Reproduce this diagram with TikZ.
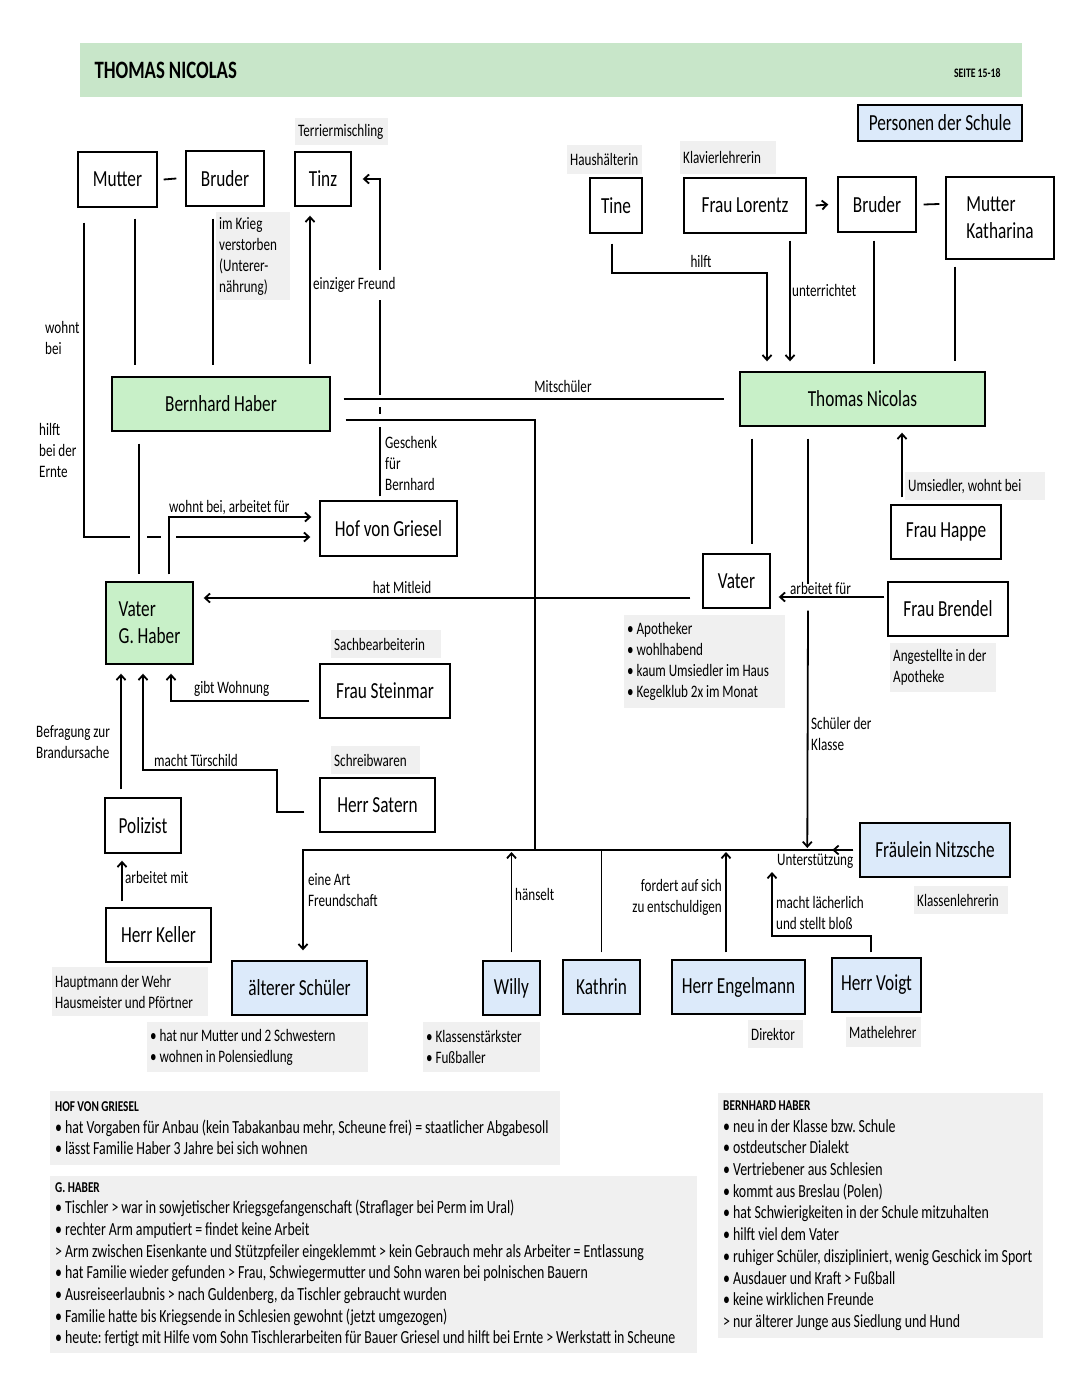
\documentclass[tikz,border=0pt]{standalone}
\usepackage{fontspec}
\setmainfont{Carlito}[FakeStretch=0.75, WordSpace=0.95]
\usetikzlibrary{arrows.meta}
\frenchspacing

\definecolor{kopfgruen}{RGB}{200,230,201}
\definecolor{gruen}{RGB}{200,240,200}
\definecolor{blau}{RGB}{220,234,250}
\definecolor{grau}{RGB}{240,240,240}

\begin{document}
\begin{tikzpicture}[x=1pt,y=-1pt,
  kasten/.style={draw, line width=1.4pt, inner sep=0pt, font=\fontsize{23}{27}\selectfont},
  notiz/.style={fill=grau, anchor=north west, inner sep=3pt, align=flush left, font=\fontsize{17.5}{21}\selectfont},
  info/.style={fill=grau, anchor=north west, inner xsep=5pt, inner ysep=6pt, align=flush left, font=\fontsize{18.5}{21.7}\selectfont},
  beschr/.style={inner sep=1pt, anchor=west, align=left, font=\fontsize{17.5}{21}\selectfont},
  linie/.style={line width=1.8pt},
  pfeil/.style={line width=1.8pt, -{Straight Barb[length=5pt,width=9pt]}}]

\useasboundingbox (0,0) rectangle (1080,1394);
\fill[white] (0,0) rectangle (1080,1394);

% Kopfzeile
\node[fill=kopfgruen, minimum width=942, minimum height=54, inner sep=0pt] (kopf) at (551,70) {};
\node[anchor=west, font=\bfseries\fontsize{25}{25}\selectfont] (titel) at (91,70) {THOMAS NICOLAS};
\node[anchor=east, font=\bfseries\fontsize{13}{13}\selectfont] (seite) at (1004,73) {SEITE 15-18};
\node[kasten, fill=blau, minimum width=164, minimum height=36] (personen) at (940,123) {Personen der Schule};

% Familie Haber
\node[kasten, minimum width=79, minimum height=55] (mutter) at (117.5,179.5) {Mutter};
\node[kasten, minimum width=78, minimum height=55] (bruder) at (225,178.5) {Bruder};
\node[kasten, minimum width=56, minimum height=54] (tinz) at (323,179) {Tinz};
\node[notiz, text width=87, minimum height=27] (terrier) at (295,118) {Terriermischling};
\node[notiz, text width=68, minimum height=88] (krieg) at (216,212) {im Krieg\\verstorben\\(Unterer-\\nährung)};
\node[kasten, fill=gruen, minimum width=218, minimum height=54] (bernhard) at (221,404) {Bernhard Haber};
\node[kasten, minimum width=137, minimum height=55] (hof) at (388.5,528.5) {Hof von Griesel};
\node[kasten, fill=gruen, minimum width=87, minimum height=82, align=left] (vaterg) at (149.5,623) {Vater\\G. Haber};
\node[kasten, minimum width=130, minimum height=54] (steinmar) at (385,691) {Frau Steinmar};
\node[notiz, text width=104, minimum height=28] (sachb) at (331,630) {Sachbearbeiterin};
\node[kasten, minimum width=115, minimum height=54] (satern) at (377.5,805) {Herr Satern};
\node[notiz, text width=83, minimum height=28] (schreibw) at (331,746) {Schreibwaren};
\node[kasten, minimum width=76, minimum height=55] (polizist) at (143,825.5) {Polizist};
\node[kasten, minimum width=105, minimum height=54] (keller) at (158.5,935) {Herr Keller};
\node[notiz, text width=150, minimum height=49] (hauptmann) at (52,967) {Hauptmann der Wehr\\Hausmeister und Pförtner};

% Familie Nicolas
\node[kasten, fill=gruen, minimum width=245, minimum height=54] (thomas) at (862.5,399) {Thomas Nicolas};
\node[kasten, minimum width=52, minimum height=55] (tine) at (616,205.5) {Tine};
\node[notiz, text width=69, minimum height=29] (haush) at (567,145) {Haushälterin};
\node[kasten, minimum width=122, minimum height=55] (lorentz) at (745,205.5) {Frau Lorentz};
\node[notiz, text width=90, minimum height=33] (klavier) at (680,141) {Klavierlehrerin};
\node[kasten, minimum width=78, minimum height=55] (bruderk) at (877,204.5) {Bruder};
\node[kasten, minimum width=108, minimum height=82, align=left] (mutterk) at (1000,218) {Mutter\\Katharina};
\node[kasten, minimum width=67, minimum height=54] (vatert) at (736.5,581) {Vater};
\node[notiz, text width=155, minimum height=93] (vaterinfo) at (624,615) {\textbullet\ Apotheker\\\textbullet\ wohlhabend\\\textbullet\ kaum Umsiedler im Haus\\\textbullet\ Kegelklub 2x im Monat};
\node[kasten, minimum width=110, minimum height=54] (happe) at (946,532) {Frau Happe};
\node[notiz, text width=134, minimum height=28] (umsiedler) at (905,472) {Umsiedler, wohnt bei};
\node[kasten, minimum width=120, minimum height=54] (brendel) at (948,609) {Frau Brendel};
\node[notiz, text width=100, minimum height=49] (angest) at (890,643) {Angestellte in der\\Apotheke};

% Schule
\node[kasten, fill=blau, minimum width=150, minimum height=54] (nitzsche) at (935,850) {Fräulein Nitzsche};
\node[notiz, text width=88, minimum height=28] (klassenl) at (914,886) {Klassenlehrerin};
\node[kasten, fill=blau, minimum width=135, minimum height=54] (aelterer) at (299.5,988) {älterer Schüler};
\node[notiz, text width=215, minimum height=50] (aeltinfo) at (147,1022) {\textbullet\ hat nur Mutter und 2 Schwestern\\\textbullet\ wohnen in Polensiedlung};
\node[kasten, fill=blau, minimum width=57, minimum height=54] (willy) at (511.5,988) {Willy};
\node[notiz, text width=111, minimum height=50] (willyinfo) at (423,1022) {\textbullet\ Klassenstärkster\\\textbullet\ Fußballer};
\node[kasten, fill=blau, minimum width=77, minimum height=54] (kathrin) at (601.5,987) {Kathrin};
\node[kasten, fill=blau, minimum width=133, minimum height=54] (engelmann) at (738.5,987) {Herr Engelmann};
\node[notiz, text width=49, minimum height=28] (direktor) at (748,1020) {Direktor};
\node[kasten, fill=blau, minimum width=89, minimum height=54] (voigt) at (876.5,985) {Herr Voigt};
\node[notiz, text width=69, minimum height=30] (mathe) at (846,1017) {Mathelehrer};

\coordinate (ernte) at (139,537);
\coordinate (geschenk) at (380,410);
\coordinate (bus) at (535,850);

% Verbindungen Haber
\draw[linie] ([xshift=6pt]mutter.east) -- ([xshift=-9pt]bruder.west);
\draw[linie] ([xshift=7pt,yshift=-15pt]mutter.south west) |- ([xshift=-9pt]ernte);
\draw[linie] ([xshift=8pt]ernte) -- ([xshift=22pt]ernte);
\draw[pfeil] ([xshift=37pt]ernte) -- ([xshift=-9pt,yshift=-8.5pt]hof.west);
\draw[linie] ([xshift=17.5pt,yshift=-11pt]mutter.south) -- ([xshift=-86pt,yshift=11pt]bernhard.north);
\draw[linie] ([xshift=-12pt,yshift=-12pt]bruder.south) -- ([xshift=-8pt,yshift=11pt]bernhard.north);
\draw[pfeil] ([xshift=89pt,yshift=12pt]bernhard.north) -- ([xshift=-13pt,yshift=-9pt]tinz.south);
\draw[linie] ([xshift=-8.5pt,yshift=4pt]hof.north) -- ([yshift=-17pt]geschenk);
\draw[linie] ([yshift=3pt]geschenk) -- ([yshift=-4pt]geschenk);
\draw[linie] ([yshift=15pt]geschenk) -- ([yshift=110pt]geschenk);
\draw[pfeil] ([yshift=140pt]geschenk) |- ([xshift=11pt]tinz.east);
\draw[linie] ([xshift=13pt,yshift=5pt]bernhard.east) -- ([xshift=-15pt]thomas.west);
\draw[linie] ([xshift=15pt,yshift=-16pt]bernhard.east) -| (bus);
\draw[linie] ([xshift=-82pt,yshift=-12pt]bernhard.south) -- ([xshift=-10.5pt,yshift=7pt]vaterg.north);
\draw[pfeil] ([xshift=19.5pt,yshift=7pt]vaterg.north) |- ([xshift=-8pt,yshift=11.5pt]hof.west);
\draw[pfeil] ([xshift=-10pt,yshift=-10pt]steinmar.west) -| ([xshift=21.5pt,yshift=-9pt]vaterg.south);
\draw[pfeil] ([xshift=-15pt,yshift=-7pt]satern.west) -- ([xshift=-42pt,yshift=-7pt]satern.west)
  -- ([xshift=-42pt,yshift=35pt]satern.west) -| ([xshift=-6.5pt,yshift=-9pt]vaterg.south);
\draw[pfeil] ([xshift=-22pt,yshift=8pt]polizist.north) -- ([xshift=-28.5pt,yshift=-9pt]vaterg.south);
\draw[pfeil] ([xshift=-36.5pt,yshift=6pt]keller.north) -- ([xshift=-21pt,yshift=-7pt]polizist.south);

% Verbindungen Nicolas
\draw[pfeil] ([xshift=-12pt,yshift=-17pt]vatert.west) -- ([xshift=10pt,yshift=25pt]vaterg.east);
\draw[linie] ([xshift=-110.5pt,yshift=-12pt]thomas.south) -- ([xshift=15.5pt,yshift=9pt]vatert.north);
\draw[pfeil] ([xshift=-3pt,yshift=12pt]brendel.west) -- ([xshift=8pt,yshift=-16pt]vatert.east);
\draw[pfeil] ([xshift=-44pt,yshift=7pt]happe.north) -- ([xshift=39.5pt,yshift=-6pt]thomas.south);
\draw[pfeil] ([xshift=-4pt,yshift=-10pt]tine.south) |- ([xshift=-95.5pt,yshift=98pt]thomas.north)
  -- ([xshift=-95.5pt,yshift=10pt]thomas.north);
\draw[pfeil] ([xshift=45pt,yshift=-7pt]lorentz.south) -- ([xshift=-72.5pt,yshift=10pt]thomas.north);
\draw[linie] ([xshift=-3pt,yshift=-8pt]bruderk.south) -- ([xshift=11.5pt,yshift=7pt]thomas.north);
\draw[linie] ([xshift=-45pt,yshift=-7pt]mutterk.south) -- ([xshift=92.5pt,yshift=10pt]thomas.north);
\draw[pfeil] ([xshift=9pt]lorentz.east) -- ([xshift=-9pt]bruderk.west);
\draw[linie] ([xshift=7pt]bruderk.east) -- ([xshift=-6pt,yshift=14pt]mutterk.west);
\draw[linie] ([xshift=-54.5pt,yshift=-12pt]thomas.south) -- ([xshift=-54.5pt,yshift=-157pt]thomas.south);
\draw[pfeil] ([xshift=-54.5pt,yshift=-184pt]thomas.south) -- ([xshift=-52pt,yshift=2pt]nitzsche.west);

% Verbindungen Schule
\draw[pfeil] ([xshift=-6pt]nitzsche.west) -| ([xshift=3.5pt,yshift=10pt]aelterer.north);
\draw[pfeil] ([xshift=-6pt]nitzsche.west) -- ([xshift=-27pt]nitzsche.west);
\draw[pfeil] ([yshift=8pt]willy.north) -- ([xshift=-23.5pt,yshift=-2pt]bus);
\draw[linie] ([yshift=7pt]kathrin.north) -- ([xshift=66.5pt]bus);
\draw[pfeil] ([xshift=-12.5pt,yshift=7pt]engelmann.north) -- ([xshift=191pt,yshift=-2pt]bus);
\draw[pfeil] ([xshift=-5.5pt,yshift=5pt]voigt.north) -- ([xshift=-5.5pt,yshift=21pt]voigt.north)
  -| ([xshift=237pt,yshift=-22pt]bus);

% Beschriftungen
\node[beschr] (l1) at (44,338) {wohnt\\bei};
\node[beschr] (l2) at (38,450) {hilft\\bei der\\Ernte};
\node[beschr] (l3) at (312,285) {einziger Freund};
\node[beschr] (l4) at (384,463) {Geschenk\\für\\Bernhard};
\node[beschr, anchor=center] (l5) at (563,386) {Mitschüler};
\node[beschr] (l6) at (168,508) {wohnt bei, arbeitet für};
\node[beschr, anchor=center] (l7) at (402,587) {hat Mitleid};
\node[beschr] (l8) at (789,588) {arbeitet für};
\node[beschr, anchor=center] (l9) at (701,261) {hilft};
\node[beschr] (l10) at (791,290) {unterrichtet};
\node[beschr] (l11) at (810,734) {Schüler der\\Klasse};
\node[beschr] (l12) at (193,689) {gibt Wohnung};
\node[beschr] (l13) at (153,760) {macht Türschild};
\node[beschr] (l14) at (35,742) {Befragung zur\\Brandursache};
\node[beschr] (l15) at (124,877) {arbeitet mit};
\node[beschr] (l16) at (307,890) {eine Art\\Freundschaft};
\node[beschr] (l17) at (514,894) {hänselt};
\node[beschr, anchor=east, align=right] (l18) at (723,897) {fordert auf sich\\zu entschuldigen};
\node[beschr] (l19) at (776,861) {Unterstützung};
\node[beschr] (l20) at (775,913) {macht lächerlich\\und stellt bloß};

% Infokästen unten
\node[info, text width=500, minimum height=74] (hofinfo) at (50,1091) {{\bfseries\fontsize{15}{15}\selectfont HOF VON GRIESEL}\\
\textbullet\ hat Vorgaben für Anbau (kein Tabakanbau mehr, Scheune frei) = staatlicher Abgabesoll\\
\textbullet\ lässt Familie Haber 3 Jahre bei sich wohnen};
\node[info, text width=637, minimum height=176] (haberinfo) at (50,1176) {{\bfseries\fontsize{15}{15}\selectfont G. HABER}\\
\textbullet\ Tischler > war in sowjetischer Kriegsgefangenschaft (Straflager bei Perm im Ural)\\
\textbullet\ rechter Arm amputiert = findet keine Arbeit\\
> Arm zwischen Eisenkante und Stützpfeiler eingeklemmt > kein Gebrauch mehr als Arbeiter = Entlassung\\
\textbullet\ hat Familie wieder gefunden > Frau, Schwiegermutter und Sohn waren bei polnischen Bauern\\
\textbullet\ Ausreiseerlaubnis > nach Guldenberg, da Tischler gebraucht wurden\\
\textbullet\ Familie hatte bis Kriegsende in Schlesien gewohnt (jetzt umgezogen)\\
\textbullet\ heute: fertigt mit Hilfe vom Sohn Tischlerarbeiten für Bauer Griesel und hilft bei Ernte > Werkstatt in Scheune};
\node[info, text width=315, minimum height=245] (bernhardinfo) at (718,1093) {{\bfseries\fontsize{15}{15}\selectfont BERNHARD HABER}\\
\textbullet\ neu in der Klasse bzw. Schule\\
\textbullet\ ostdeutscher Dialekt\\
\textbullet\ Vertriebener aus Schlesien\\
\textbullet\ kommt aus Breslau (Polen)\\
\textbullet\ hat Schwierigkeiten in der Schule mitzuhalten\\
\textbullet\ hilft viel dem Vater\\
\textbullet\ ruhiger Schüler, diszipliniert, wenig Geschick im Sport\\
\textbullet\ Ausdauer und Kraft > Fußball\\
\textbullet\ keine wirklichen Freunde\\
> nur älterer Junge aus Siedlung und Hund};
\end{tikzpicture}
\end{document}
